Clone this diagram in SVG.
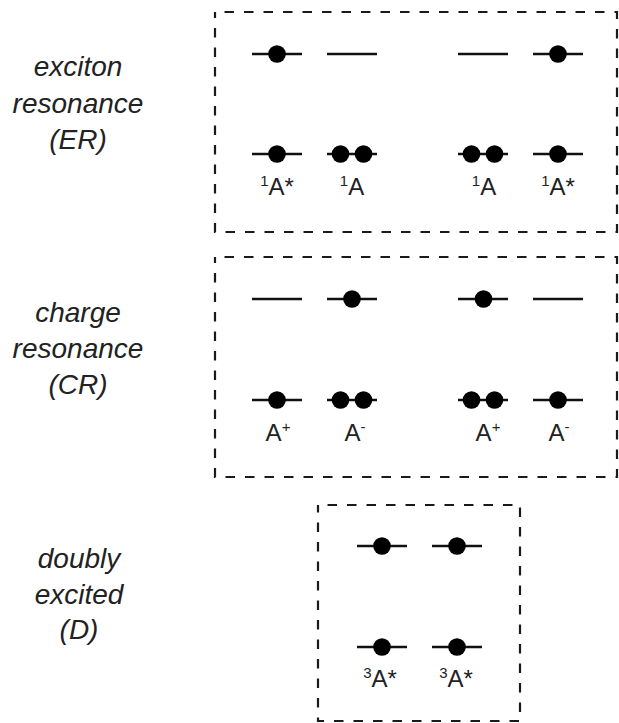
<svg xmlns="http://www.w3.org/2000/svg" width="619" height="723" viewBox="0 0 619 723">
<style>
.box{fill:none;stroke:#1a1a1a;stroke-width:2.2;stroke-dasharray:9.5 10;stroke-dashoffset:10}
.lv{stroke:#111;stroke-width:2.7;fill:none}
.e{fill:#000}
.side{font-family:"Liberation Sans",Arial,sans-serif;font-style:italic;font-size:28px;fill:#222;text-anchor:middle}
.lab{font-family:"Liberation Sans",Arial,sans-serif;font-size:24px;fill:#222;text-anchor:middle}
.sup{font-size:15px}
</style>
<rect width="619" height="723" fill="#fff"/>

<g id="label-ER">
<text class="side" x="78" y="76">exciton</text>
<text class="side" x="78" y="112.5">resonance</text>
<text class="side" x="78" y="149">(ER)</text>
</g>
<g id="label-CR">
<text class="side" x="78" y="322">charge</text>
<text class="side" x="78" y="358">resonance</text>
<text class="side" x="78" y="394">(CR)</text>
</g>
<g id="label-D">
<text class="side" x="79" y="568">doubly</text>
<text class="side" x="79" y="603.5">excited</text>
<text class="side" x="79" y="639">(D)</text>
</g>

<g id="box-ER">
<rect class="box" x="215" y="12" width="402" height="220"/>
<path class="lv" d="M252 54H302M327 54H377M458 54H508M533 54H583M252 154H302M327 154H377M458 154H508M533 154H583"/>
<circle class="e" cx="277" cy="54" r="8.8"/>
<circle class="e" cx="558" cy="54" r="8.8"/>
<circle class="e" cx="277" cy="154" r="8.8"/>
<circle class="e" cx="340.5" cy="154" r="8.8"/>
<circle class="e" cx="363.5" cy="154" r="8.8"/>
<circle class="e" cx="471.5" cy="154" r="8.8"/>
<circle class="e" cx="494.5" cy="154" r="8.8"/>
<circle class="e" cx="558" cy="154" r="8.8"/>
<text class="lab" x="277" y="195"><tspan class="sup" dy="-9">1</tspan><tspan dy="9">A*</tspan></text>
<text class="lab" x="352" y="195"><tspan class="sup" dy="-9">1</tspan><tspan dy="9">A</tspan></text>
<text class="lab" x="484" y="195"><tspan class="sup" dy="-9">1</tspan><tspan dy="9">A</tspan></text>
<text class="lab" x="558" y="195"><tspan class="sup" dy="-9">1</tspan><tspan dy="9">A*</tspan></text>
</g>

<g id="box-CR">
<rect class="box" x="215" y="257" width="402" height="220"/>
<path class="lv" d="M252 299H302M327 299H377M458 299H508M533 299H583M252 400H302M327 400H377M458 400H508M533 400H583"/>
<circle class="e" cx="352" cy="299" r="8.8"/>
<circle class="e" cx="483.5" cy="299" r="8.8"/>
<circle class="e" cx="277" cy="400" r="8.8"/>
<circle class="e" cx="340.5" cy="400" r="8.8"/>
<circle class="e" cx="363.5" cy="400" r="8.8"/>
<circle class="e" cx="471.5" cy="400" r="8.8"/>
<circle class="e" cx="494.5" cy="400" r="8.8"/>
<circle class="e" cx="558" cy="400" r="8.8"/>
<text class="lab" x="278" y="441">A<tspan class="sup" dy="-9">+</tspan></text>
<text class="lab" x="355" y="441">A<tspan class="sup" dy="-9">-</tspan></text>
<text class="lab" x="488" y="441">A<tspan class="sup" dy="-9">+</tspan></text>
<text class="lab" x="559" y="441">A<tspan class="sup" dy="-9">-</tspan></text>
</g>

<g id="box-D">
<rect class="box" x="318" y="505" width="202" height="216"/>
<path class="lv" d="M357 546H407M432 546H482M357 647H407M432 647H482"/>
<circle class="e" cx="382" cy="546" r="8.8"/>
<circle class="e" cx="457" cy="546" r="8.8"/>
<circle class="e" cx="382" cy="647" r="8.8"/>
<circle class="e" cx="457" cy="647" r="8.8"/>
<text class="lab" x="380" y="687"><tspan class="sup" dy="-9">3</tspan><tspan dy="9">A*</tspan></text>
<text class="lab" x="456" y="687"><tspan class="sup" dy="-9">3</tspan><tspan dy="9">A*</tspan></text>
</g>
</svg>
